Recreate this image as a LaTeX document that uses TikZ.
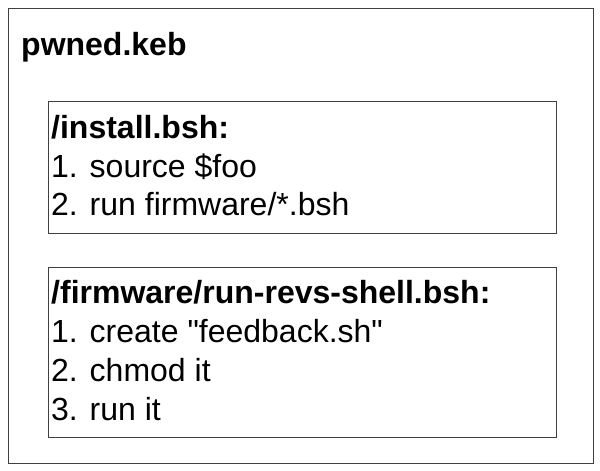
\documentclass[tikz,border=0pt]{standalone}
\usepackage{fontspec}
\setmainfont{Liberation Sans}
\usepackage{tikz}
\usetikzlibrary{positioning}
\tikzstyle{panel}=[draw=black!75,line width=1pt,rectangle,inner sep=0pt,anchor=north west]
\tikzstyle{entry}=[inner sep=0pt,anchor=base west,font=\fontsize{32}{36}\selectfont]
\tikzstyle{heading}=[entry,font=\fontsize{32}{36}\selectfont\bfseries]

\begin{document}
\begin{tikzpicture}[x=1pt,y=-1pt]
\useasboundingbox (0,0) rectangle (600,471);
% outer package
\node [panel, minimum width=585pt, minimum height=455pt] (keb) at (8,8) {};
\node [heading] (title) at (21,55) {pwned.keb};
% install script
\node [panel, minimum width=508pt, minimum height=132pt] (install) at (48,101) {};
\node [heading] (ih) at (51,138) {/install.bsh:};
\node [entry] (i1) at ([yshift=-39pt]ih.base west) {1. source \$foo};
\node [entry] (i2) at ([yshift=-38pt]i1.base west) {2. run firmware/*.bsh};
% firmware script
\node [panel, minimum width=508pt, minimum height=170pt] (revs) at (48,267) {};
\node [heading] (rh) at (51,303) {/firmware/run-revs-shell.bsh:};
\node [entry] (r1) at ([yshift=-39pt]rh.base west) {1. create \textquotedbl feedback.sh\textquotedbl};
\node [entry] (r2) at ([yshift=-39pt]r1.base west) {2. chmod it};
\node [entry] (r3) at ([yshift=-39pt]r2.base west) {3. run it};
\end{tikzpicture}
\end{document}
